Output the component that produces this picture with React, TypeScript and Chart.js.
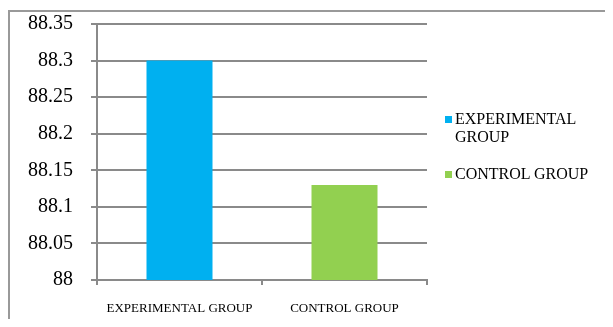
import React, { useEffect, useRef } from "react";
import { Chart, registerables } from "chart.js";

Chart.register(...registerables);

const categories = ["EXPERIMENTAL GROUP", "CONTROL GROUP"];
const scores = [88.3, 88.13];
const barColors = ["#00B0F0", "#92D050"];
const yTicks = [88, 88.05, 88.1, 88.15, 88.2, 88.25, 88.3, 88.35];

const FONT = '"Liberation Serif", "Times New Roman", Times, serif';
const GRID = "#8a8a8a";

export default function App() {
  const ref = useRef<HTMLCanvasElement | null>(null);

  useEffect(() => {
    if (!ref.current) return;
    document.documentElement.style.overflow = "hidden";
    document.body.style.overflow = "hidden";
    const chart = new Chart(ref.current, {
      type: "bar",
      data: {
        labels: categories,
        datasets: [
          {
            label: "Score",
            data: scores,
            backgroundColor: barColors,
            borderWidth: 0,
            categoryPercentage: 1,
            barPercentage: 0.4,
          },
        ],
      },
      options: {
        animation: false,
        responsive: false,
        maintainAspectRatio: false,
        layout: { padding: { top: 16, right: 181, bottom: 0, left: 0 } },
        plugins: { legend: { display: false }, tooltip: { enabled: false } },
        scales: {
          x: {
            offset: true,
            grid: {
              display: true,
              drawOnChartArea: false,
              drawTicks: true,
              tickLength: 5,
              color: GRID,
              lineWidth: 2,
              offset: true,
            },
            border: { display: true, color: GRID, width: 2 },
            ticks: {
              color: "#000",
              font: { family: FONT, size: 13 },
              padding: 16,
              maxRotation: 0,
              autoSkip: false,
            },
            afterFit: (s: any) => {
              s.height = 39;
              s.paddingLeft = 0;
              s.paddingRight = 0;
            },
          },
          y: {
            min: 88,
            max: 88.35,
            afterBuildTicks: (s: any) => {
              s.ticks = yTicks.map((v) => ({ value: v }));
            },
            grid: {
              color: GRID,
              lineWidth: 2,
              tickLength: 6,
            },
            border: { display: true, color: GRID, width: 2 },
            ticks: {
              color: "#000",
              font: { family: FONT, size: 20 },
              padding: 18,
              callback: (v: any) => Number(Number(v).toFixed(2)).toString(),
            },
            afterFit: (s: any) => {
              s.width = 89;
              s.paddingTop = 0;
              s.paddingBottom = 0;
            },
          },
        },
      },
    });
    return () => chart.destroy();
  }, []);

  const legendText: React.CSSProperties = {
    fontFamily: FONT,
    fontSize: 16,
    lineHeight: "18px",
    color: "#000",
  };

  return (
    <div
      style={{
        position: "relative",
        width: 600,
        height: 311,
        overflow: "hidden",
        background: "#fff",
      }}
    >
      <div
        style={{
          position: "absolute",
          left: 0,
          top: 2,
          width: 600,
          height: 2,
          background: "#999",
        }}
      />
      <div
        style={{
          position: "absolute",
          left: 0,
          top: 2,
          width: 2,
          height: 309,
          background: "#999",
        }}
      />
      <canvas
        ref={ref}
        width={600}
        height={311}
        style={{ position: "absolute", left: 0, top: 0, width: 600, height: 311 }}
      />
      <div style={{ position: "absolute", left: 437, top: 102, width: 150 }}>
        {categories.map((c, i) => (
          <div
            key={c}
            style={{ display: "flex", alignItems: "flex-start", marginBottom: 19 }}
          >
            <div
              style={{
                width: 7,
                height: 7,
                marginTop: 5.5,
                marginRight: 3,
                background: barColors[i],
                flex: "0 0 auto",
              }}
            />
            <div style={legendText}>{c}</div>
          </div>
        ))}
      </div>
    </div>
  );
}
